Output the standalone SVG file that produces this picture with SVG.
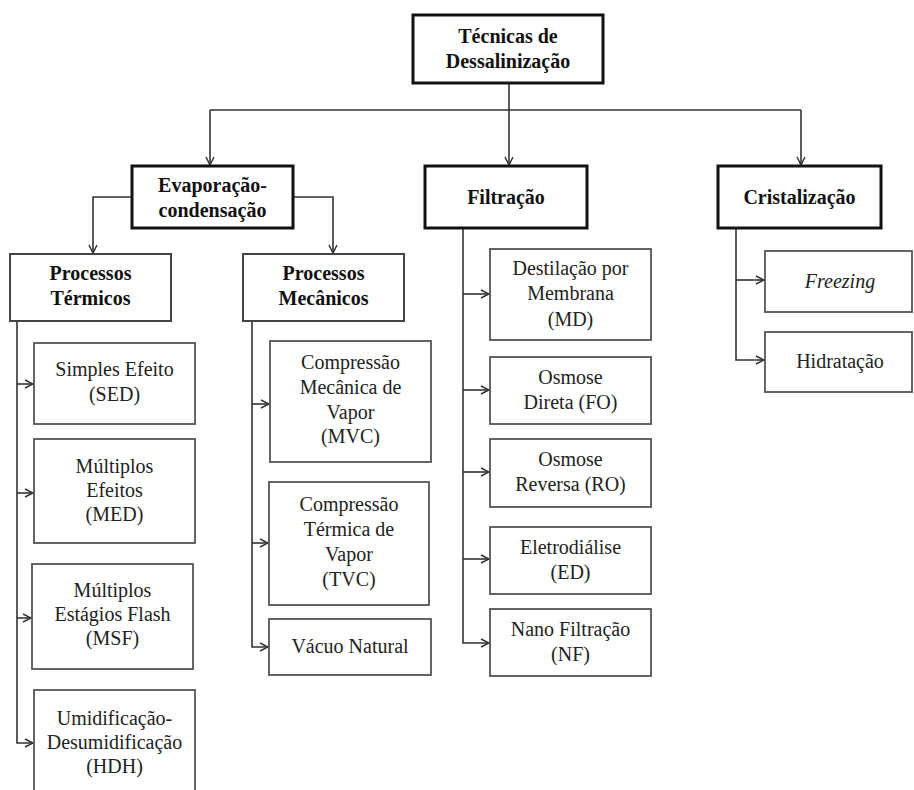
<svg xmlns="http://www.w3.org/2000/svg" width="914" height="790" viewBox="0 0 914 790" font-family="Liberation Serif, DejaVu Serif, Times New Roman, serif">
<style>
text{font-size:20px;fill:#222;text-anchor:middle}
.b{font-weight:bold;fill:#111}
.i{font-style:italic}
.main{fill:#fff;stroke:#111;stroke-width:3}
.sub{fill:#fff;stroke:#444;stroke-width:2}
.leaf{fill:#fff;stroke:#555;stroke-width:1.8}
.c{fill:none;stroke:#333;stroke-width:1.6}
</style>
<defs>
<marker id="a" viewBox="0 0 10 10" refX="9" refY="5" markerWidth="10" markerHeight="10" markerUnits="userSpaceOnUse" orient="auto">
<path d="M1,1 L9,5 L1,9" fill="none" stroke="#333" stroke-width="1.5"/>
</marker>
</defs>
<rect width="914" height="790" fill="#fff"/>
<g id="connectors">
<path class="c" d="M509,83 V165" marker-end="url(#a)"/>
<path class="c" d="M210,110 H801"/>
<path class="c" d="M210,110 V165" marker-end="url(#a)"/>
<path class="c" d="M801,110 V165" marker-end="url(#a)"/>
<path class="c" d="M132,197 H93 V253" marker-end="url(#a)"/>
<path class="c" d="M293,197 H333 V253" marker-end="url(#a)"/>
<path class="c" d="M17,321 V743 H33" marker-end="url(#a)"/>
<path class="c" d="M17,384 H33" marker-end="url(#a)"/>
<path class="c" d="M17,493 H33" marker-end="url(#a)"/>
<path class="c" d="M17,618 H31" marker-end="url(#a)"/>
<path class="c" d="M252,321 V647 H268" marker-end="url(#a)"/>
<path class="c" d="M252,404 H269" marker-end="url(#a)"/>
<path class="c" d="M252,543 H268" marker-end="url(#a)"/>
<path class="c" d="M463,228 V643 H489" marker-end="url(#a)"/>
<path class="c" d="M463,294 H489" marker-end="url(#a)"/>
<path class="c" d="M463,390 H489" marker-end="url(#a)"/>
<path class="c" d="M463,472 H489" marker-end="url(#a)"/>
<path class="c" d="M463,559 H489" marker-end="url(#a)"/>
<path class="c" d="M736,228 V360 H764" marker-end="url(#a)"/>
<path class="c" d="M736,280 H764" marker-end="url(#a)"/>
</g>
<g id="root"><rect class="main" x="413" y="15" width="190" height="68"/><text class="b" x="508" y="43">Técnicas de</text><text class="b" x="508" y="68">Dessalinização</text></g>
<g id="evap"><rect class="main" x="132" y="166" width="161" height="62"/><text class="b" x="212.5" y="192">Evaporação-</text><text class="b" x="212.5" y="217">condensação</text></g>
<g id="filt"><rect class="main" x="425" y="166" width="162" height="62"/><text class="b" x="506" y="204">Filtração</text></g>
<g id="crist"><rect class="main" x="718" y="166" width="163" height="62"/><text class="b" x="799.5" y="204">Cristalização</text></g>
<g id="pt"><rect class="sub" x="10" y="254" width="161" height="67"/><text class="b" x="90.5" y="280">Processos</text><text class="b" x="90.5" y="305">Térmicos</text></g>
<g id="pm"><rect class="sub" x="243" y="254" width="161" height="67"/><text class="b" x="323.5" y="280">Processos</text><text class="b" x="323.5" y="305">Mecânicos</text></g>
<g id="sed"><rect class="leaf" x="34" y="343" width="161" height="81"/><text x="114.5" y="376">Simples Efeito</text><text x="114.5" y="401">(SED)</text></g>
<g id="med"><rect class="leaf" x="34" y="439" width="161" height="104"/><text x="114.5" y="473">Múltiplos</text><text x="114.5" y="497">Efeitos</text><text x="114.5" y="521">(MED)</text></g>
<g id="msf"><rect class="leaf" x="32" y="564" width="161" height="105"/><text x="112.5" y="597">Múltiplos</text><text x="112.5" y="621">Estágios Flash</text><text x="112.5" y="645">(MSF)</text></g>
<g id="hdh"><rect class="leaf" x="34" y="690" width="161" height="110"/><text x="114.5" y="725">Umidificação-</text><text x="114.5" y="749">Desumidificação</text><text x="114.5" y="773">(HDH)</text></g>
<g id="mvc"><rect class="leaf" x="270" y="341" width="161" height="121"/><text x="350.5" y="369">Compressão</text><text x="350.5" y="394">Mecânica de</text><text x="350.5" y="419">Vapor</text><text x="350.5" y="443">(MVC)</text></g>
<g id="tvc"><rect class="leaf" x="269" y="482" width="160" height="123"/><text x="349" y="511">Compressão</text><text x="349" y="536">Térmica de</text><text x="349" y="561">Vapor</text><text x="349" y="586">(TVC)</text></g>
<g id="vn"><rect class="leaf" x="269" y="619" width="162" height="56"/><text x="350" y="653">Vácuo Natural</text></g>
<g id="md"><rect class="leaf" x="490" y="249" width="161" height="91"/><text x="570.5" y="275">Destilação por</text><text x="570.5" y="300">Membrana</text><text x="570.5" y="326">(MD)</text></g>
<g id="fo"><rect class="leaf" x="490" y="357" width="161" height="67"/><text x="570.5" y="384">Osmose</text><text x="570.5" y="409">Direta (FO)</text></g>
<g id="ro"><rect class="leaf" x="490" y="439" width="161" height="68"/><text x="570.5" y="466">Osmose</text><text x="570.5" y="491">Reversa (RO)</text></g>
<g id="ed"><rect class="leaf" x="490" y="527" width="161" height="67"/><text x="570.5" y="554">Eletrodiálise</text><text x="570.5" y="579">(ED)</text></g>
<g id="nf"><rect class="leaf" x="490" y="609" width="161" height="67"/><text x="570.5" y="636">Nano Filtração</text><text x="570.5" y="661">(NF)</text></g>
<g id="frz"><rect class="leaf" x="765" y="251" width="147" height="61"/><text class="i" x="840" y="288">Freezing</text></g>
<g id="hid"><rect class="leaf" x="765" y="332" width="147" height="60"/><text x="840" y="368">Hidratação</text></g>
</svg>
